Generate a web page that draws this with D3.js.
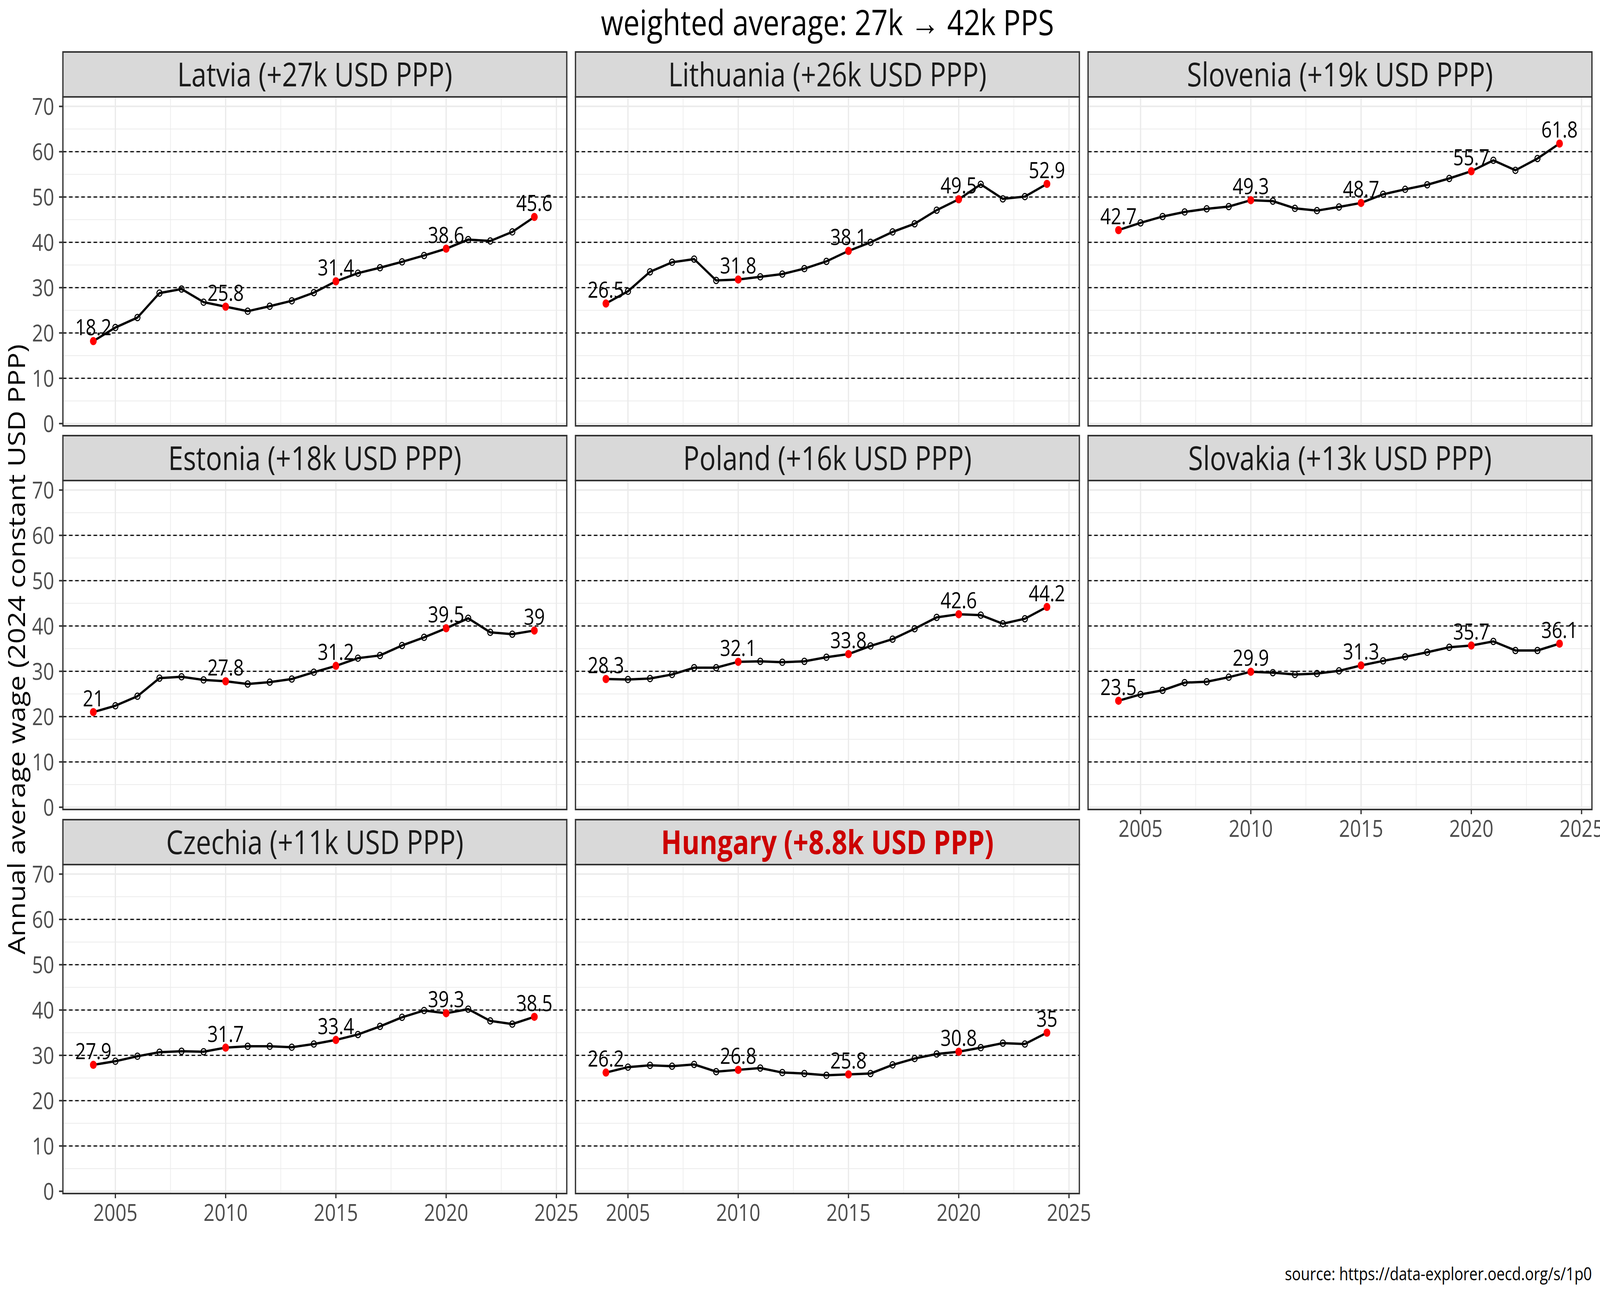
<!DOCTYPE html>
<html>
<head>
<meta charset="utf-8">
<script src="https://cdn.jsdelivr.net/npm/d3@7"></script>
<style>
html,body{margin:0;padding:0;background:#fff;overflow:hidden;}
svg{display:block;width:100vw;height:100vh;}
text{font-family:"Open Sans","Noto Sans",sans-serif;}
</style>
</head>
<body>
<script>

// chart data
var years = [2004,2005,2006,2007,2008,2009,2010,2011,2012,2013,2014,2015,2016,2017,2018,2019,2020,2021,2022,2023,2024];
var labelYears = [2004,2010,2015,2020,2024];

var countries = ["Latvia","Lithuania","Slovenia","Estonia","Poland","Slovakia","Czechia","Hungary"];
var gains = ["+27k","+26k","+19k","+18k","+16k","+13k","+11k","+8.8k"];

var latvia    = [18.2,21.2,23.4,28.8,29.7,26.8,25.8,24.8,25.9,27.1,28.9,31.4,33.2,34.4,35.7,37.1,38.6,40.6,40.3,42.3,45.6];
var lithuania = [26.5,29.2,33.5,35.6,36.3,31.6,31.8,32.4,33.0,34.2,35.8,38.1,40.0,42.3,44.1,47.1,49.5,52.8,49.6,50.1,52.9];
var slovenia  = [42.7,44.3,45.7,46.7,47.4,47.9,49.3,49.1,47.5,47.0,47.8,48.7,50.6,51.7,52.7,54.1,55.7,58.1,55.9,58.5,61.8];
var estonia   = [21,22.4,24.5,28.5,28.8,28.1,27.8,27.2,27.6,28.3,29.8,31.2,32.9,33.5,35.7,37.5,39.5,41.7,38.6,38.2,39];
var poland    = [28.3,28.2,28.4,29.3,30.8,30.8,32.1,32.2,32.0,32.2,33.1,33.8,35.6,37.1,39.4,41.9,42.6,42.4,40.5,41.6,44.2];
var slovakia  = [23.5,24.9,25.8,27.5,27.7,28.7,29.9,29.7,29.3,29.5,30.1,31.3,32.3,33.2,34.2,35.3,35.7,36.6,34.6,34.6,36.1];
var czechia   = [27.9,28.7,29.8,30.7,30.9,30.8,31.7,32.0,32.0,31.8,32.5,33.4,34.6,36.4,38.4,39.9,39.3,40.2,37.6,36.9,38.5];
var hungary   = [26.2,27.4,27.8,27.6,28.0,26.4,26.8,27.2,26.2,26.0,25.6,25.8,26.0,27.9,29.3,30.3,30.8,31.7,32.7,32.5,35];

var series = [latvia,lithuania,slovenia,estonia,poland,slovakia,czechia,hungary];

var xTicks = [2005,2010,2015,2020,2025];
var xMinor = [2007.5,2012.5,2017.5,2022.5];
var yTicks = [0,10,20,30,40,50,60,70];
var yMinor = [5,15,25,35,45,55,65];
var dashed = [10,20,30,40,50,60];

var title = "weighted average: 27k \u2192 42k PPS";
var yTitle = "Annual average wage (2024 constant USD PPP)";
var source = "source: https://data-explorer.oecd.org/s/1p0";

// layout (drawn on a 4960x3307 canvas, stretched to whatever the window is)
var W = 4960, H = 3307;
var colX = [195,1784,3373], rowY = [133,1115,2098];
var panelW = 1562, stripH = 115, panelH = 842;

var svg = d3.select("body").append("svg")
    .attr("viewBox", "0 0 " + W + " " + H)
    .attr("preserveAspectRatio", "none");
svg.append("rect").attr("width", W).attr("height", H).attr("fill", "white");

var x = d3.scaleLinear().domain([2002.62, 2025.47]).range([0, panelW]);
var y = d3.scaleLinear().domain([-0.5, 72.1]).range([panelH, 0]);

function drawPanel(i){
    var col = i % 3, row = Math.floor(i / 3);
    var px = colX[col], py = rowY[row] + stripH;
    var g = svg.append("g").attr("transform", "translate(" + px + "," + py + ")");
    var vals = series[i];
    var pts = years.map(function(yr, k){ return {year: yr, value: vals[k]}; });

    // grid
    g.selectAll(".vmin").data(xMinor).enter().append("line")
	.attr("x1", d => x(d)).attr("x2", d => x(d)).attr("y1", 0).attr("y2", panelH)
	.attr("stroke", "#EBEBEB").attr("stroke-width", 2);
    g.selectAll(".hmin").data(yMinor).enter().append("line")
	.attr("x1", 0).attr("x2", panelW).attr("y1", d => y(d)).attr("y2", d => y(d))
	.attr("stroke", "#EBEBEB").attr("stroke-width", 2);
    g.selectAll(".vmaj").data(xTicks).enter().append("line")
	.attr("x1", d => x(d)).attr("x2", d => x(d)).attr("y1", 0).attr("y2", panelH)
	.attr("stroke", "#EBEBEB").attr("stroke-width", 4);
    g.selectAll(".hmaj").data(yTicks).enter().append("line")
	.attr("x1", 0).attr("x2", panelW).attr("y1", d => y(d)).attr("y2", d => y(d))
	.attr("stroke", "#EBEBEB").attr("stroke-width", 4);

    // dashed reference lines
    g.selectAll(".dash").data(dashed).enter().append("line")
	.attr("x1", 0).attr("x2", panelW).attr("y1", d => y(d)).attr("y2", d => y(d))
	.attr("stroke", "black").attr("stroke-width", 3).attr("stroke-dasharray", "11,8");

    // series line + points
    g.append("path").datum(pts)
	.attr("d", d3.line().x(d => x(d.year)).y(d => y(d.value)))
	.attr("fill", "none").attr("stroke", "black").attr("stroke-width", 6);
    g.selectAll(".pt").data(pts).enter().append("circle")
	.attr("cx", d => x(d.year)).attr("cy", d => y(d.value)).attr("r", 8)
	.attr("fill", "none").attr("stroke", "black").attr("stroke-width", 3);

    var hi = pts.filter(d => labelYears.indexOf(d.year) >= 0);
    g.selectAll(".red").data(hi).enter().append("circle")
	.attr("cx", d => x(d.year)).attr("cy", d => y(d.value)).attr("r", 10.5)
	.attr("fill", "#FF0000");
    g.selectAll(".lab").data(hi).enter().append("text")
	.attr("x", d => x(d.year)).attr("y", d => y(d.value) - 15)
	.attr("text-anchor", "middle").attr("font-size", 57).attr("fill", "black")
	.text(d => String(d.value));

    // panel border
    g.append("rect").attr("x", 0).attr("y", 0).attr("width", panelW).attr("height", panelH)
	.attr("fill", "none").attr("stroke", "#333333").attr("stroke-width", 4);

    // strip
    svg.append("rect").attr("x", px).attr("y", rowY[row]).attr("width", panelW).attr("height", stripH)
	.attr("fill", "#D9D9D9").attr("stroke", "#333333").attr("stroke-width", 4);
    var isHu = countries[i] == "Hungary";
    svg.append("text")
	.attr("x", px + panelW / 2).attr("y", rowY[row] + stripH / 2).attr("dy", "0.36em")
	.attr("text-anchor", "middle").attr("font-size", 84)
	.attr("font-weight", isHu ? "bold" : "normal")
	.attr("fill", isHu ? "#CC0000" : "#1A1A1A")
	.text(countries[i] + " (" + gains[i] + " USD PPP)");

    // y axis on first column
    if (col == 0){
	g.selectAll(".yt").data(yTicks).enter().append("line")
	    .attr("x1", -12).attr("x2", 0).attr("y1", d => y(d)).attr("y2", d => y(d))
	    .attr("stroke", "#333333").attr("stroke-width", 4);
	g.selectAll(".ytl").data(yTicks).enter().append("text")
	    .attr("x", -27).attr("y", d => y(d)).attr("dy", "0.36em")
	    .attr("text-anchor", "end").attr("font-size", 60).attr("fill", "#4D4D4D")
	    .text(d => d);
    }
    // x axis on bottom panel of each column
    if (row == 2 || (row == 1 && col == 2)){
	g.selectAll(".xt").data(xTicks).enter().append("line")
	    .attr("x1", d => x(d)).attr("x2", d => x(d)).attr("y1", panelH).attr("y2", panelH + 12)
	    .attr("stroke", "#333333").attr("stroke-width", 4);
	g.selectAll(".xtl").data(xTicks).enter().append("text")
	    .attr("x", d => x(d)).attr("y", panelH + 70)
	    .attr("text-anchor", "middle").attr("font-size", 60).attr("fill", "#4D4D4D")
	    .text(d => d);
    }
}

for (var i = 0; i < countries.length; i++) drawPanel(i);

// titles
svg.append("text").attr("x", 2565).attr("y", 90).attr("text-anchor", "middle")
    .attr("font-size", 90).attr("fill", "black").text(title);
svg.append("text").attr("transform", "translate(77,1662) rotate(-90)")
    .attr("text-anchor", "middle").attr("font-size", 72).attr("fill", "black").text(yTitle);
svg.append("text").attr("x", 4935).attr("y", 3277).attr("text-anchor", "end")
    .attr("font-size", 46).attr("fill", "black").text(source);

</script>
</body>
</html>
